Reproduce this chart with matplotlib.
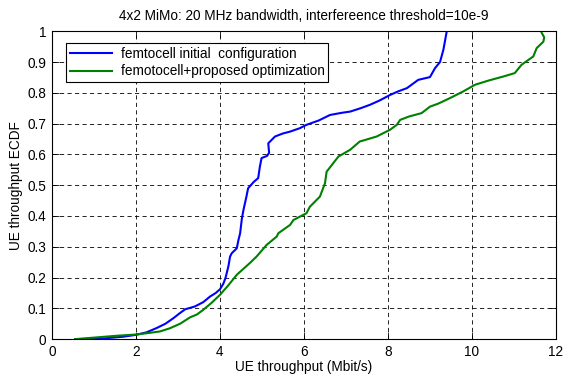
import matplotlib
matplotlib.use("Agg")
import matplotlib.pyplot as plt

plt.rcParams['font.family'] = ['Liberation Sans', 'DejaVu Sans']

# femtocell initial configuration (blue)
init_x = [0.55, 1.2, 1.7, 2.0, 2.25, 2.49, 2.7, 2.89, 3.05, 3.17, 3.4, 3.6, 3.76, 3.9, 4.0,
          4.08, 4.13, 4.2, 4.24, 4.28, 4.40, 4.44, 4.48, 4.52, 4.56, 4.63, 4.67, 4.8, 4.91,
          4.95, 4.99, 5.12, 5.17, 5.15, 5.31, 5.5, 5.67, 5.9, 6.06, 6.35, 6.62, 6.9, 7.10, 7.35,
          7.57, 7.8, 8.05, 8.25, 8.45, 8.6, 8.72, 9.0, 9.12, 9.24, 9.32, 9.36, 9.40]
init_y = [0.0, 0.002, 0.008, 0.014, 0.022, 0.036, 0.05, 0.068, 0.085, 0.097, 0.106, 0.12,
          0.138, 0.15, 0.162, 0.18, 0.198, 0.236, 0.268, 0.279, 0.295, 0.322, 0.344, 0.39,
          0.42, 0.463, 0.49, 0.51, 0.523, 0.56, 0.588, 0.595, 0.605, 0.636, 0.658, 0.668, 0.674,
          0.685, 0.696, 0.71, 0.728, 0.735, 0.739, 0.75, 0.761, 0.775, 0.793, 0.805, 0.815,
          0.83, 0.842, 0.851, 0.88, 0.90, 0.94, 0.97, 1.0]

# femtocell + proposed optimization (green)
opt_x = [0.55, 1.0, 1.54, 2.0, 2.3, 2.57, 2.8, 3.05, 3.29, 3.45, 3.6, 3.8, 4.0, 4.2, 4.40,
         4.71, 4.87, 5.11, 5.35, 5.39, 5.67, 5.75, 6.06, 6.14, 6.30, 6.38, 6.5, 6.54, 6.82,
         7.1, 7.33, 7.41, 7.73, 7.89, 8.05, 8.21, 8.29, 8.5, 8.80, 9.0, 9.2, 9.48, 9.8,
         10.07, 10.4, 10.75, 11.02, 11.18, 11.46, 11.54, 11.7, 11.72, 11.66]
opt_y = [0.0, 0.005, 0.011, 0.015, 0.02, 0.025, 0.035, 0.05, 0.071, 0.08, 0.095, 0.118,
         0.144, 0.175, 0.209, 0.247, 0.268, 0.306, 0.333, 0.344, 0.371, 0.387, 0.409, 0.43,
         0.452, 0.463, 0.506, 0.544, 0.593, 0.615, 0.642, 0.645, 0.658, 0.669, 0.68, 0.696,
         0.712, 0.723, 0.734, 0.755, 0.765, 0.783, 0.805, 0.826, 0.84, 0.853, 0.864, 0.891,
         0.918, 0.945, 0.966, 0.98, 0.995]

x_ticks = [0, 2, 4, 6, 8, 10, 12]
y_ticks = [0, 0.1, 0.2, 0.3, 0.4, 0.5, 0.6, 0.7, 0.8, 0.9, 1]
y_labels = ['0', '0.1', '0.2', '0.3', '0.4', '0.5', '0.6', '0.7', '0.8', '0.9', '1']

fs = 9.8

fig = plt.figure(figsize=(5.65, 3.76), dpi=100)
ax = fig.add_axes([0.092, 0.098, 0.892, 0.819])

ax.plot(init_x, init_y, color='#0000ff', linewidth=1.5, label='femtocell initial  configuration')
ax.plot(opt_x, opt_y, color='#008000', linewidth=1.5, label='femotocell+proposed optimization')

ax.set_xlim(0, 12)
ax.set_ylim(0, 1)
ax.set_xticks(x_ticks)
ax.set_yticks(y_ticks)
ax.set_yticklabels(y_labels)
ax.tick_params(direction='in', top=True, right=True, labelsize=fs, length=5, width=0.6, pad=4)
ax.grid(True, color='black', linestyle=(0, (5, 4)), linewidth=0.6)
for s in ax.spines.values():
    s.set_linewidth(0.8)

ax.set_xlabel('UE throughput (Mbit/s)', fontsize=fs, labelpad=1)
ax.set_ylabel('UE throughput ECDF', fontsize=fs, labelpad=3)
ax.set_title('4x2 MiMo: 20 MHz bandwidth, interfereence threshold=10e-9', fontsize=fs, pad=8)

leg = ax.legend(loc='upper left', bbox_to_anchor=(0.028, 0.962), borderaxespad=0,
                fontsize=fs, fancybox=False, framealpha=1, edgecolor='black',
                handlelength=3.1, labelspacing=0.25, borderpad=0.3, handletextpad=0.6)
leg.get_frame().set_linewidth(0.8)

fig.savefig('out.png', dpi=100)
